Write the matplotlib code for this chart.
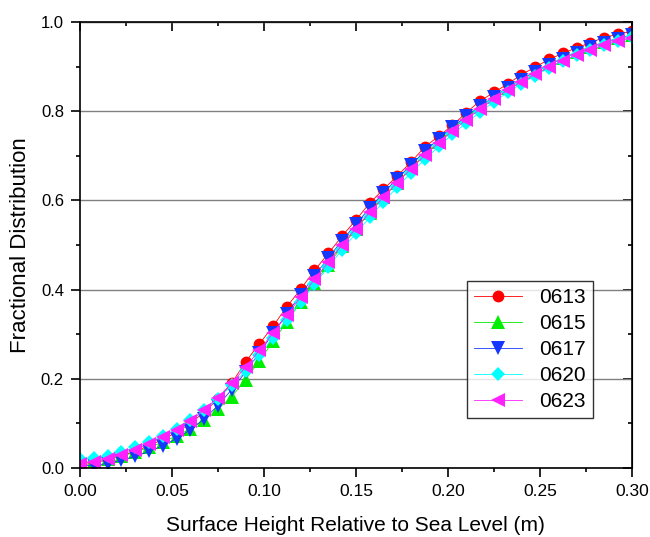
import matplotlib
matplotlib.use("Agg")
import matplotlib.pyplot as plt
from matplotlib.ticker import MultipleLocator

plt.rcParams['font.family'] = ['Liberation Sans', 'DejaVu Sans']

# surface height bins (m)
height = [0.0, 0.0075, 0.015, 0.0225, 0.03, 0.0375, 0.045, 0.0525, 0.06, 0.0675,
          0.075, 0.0825, 0.09, 0.0975, 0.105, 0.1125, 0.12, 0.1275, 0.135, 0.1425,
          0.15, 0.1575, 0.165, 0.1725, 0.18, 0.1875, 0.195, 0.2025, 0.21, 0.2175,
          0.225, 0.2325, 0.24, 0.2475, 0.255, 0.2625, 0.27, 0.2775, 0.285, 0.2925, 0.30]

d0613 = [0.005, 0.012, 0.018, 0.027, 0.037, 0.050, 0.064, 0.080, 0.100, 0.125,
         0.155, 0.190, 0.238, 0.278, 0.318, 0.362, 0.401, 0.443, 0.481, 0.520,
         0.556, 0.594, 0.625, 0.655, 0.686, 0.720, 0.744, 0.768, 0.797, 0.823,
         0.842, 0.861, 0.882, 0.899, 0.916, 0.930, 0.942, 0.954, 0.965, 0.973, 0.979]

d0615 = [0.012, 0.015, 0.020, 0.027, 0.035, 0.046, 0.058, 0.072, 0.088, 0.108,
         0.132, 0.160, 0.198, 0.240, 0.284, 0.328, 0.372, 0.415, 0.456, 0.497,
         0.535, 0.572, 0.607, 0.640, 0.672, 0.703, 0.732, 0.760, 0.786, 0.810,
         0.832, 0.853, 0.872, 0.889, 0.905, 0.920, 0.933, 0.945, 0.955, 0.964, 0.971]

d0617 = [0.005, 0.006, 0.010, 0.017, 0.026, 0.037, 0.050, 0.066, 0.086, 0.110,
         0.140, 0.176, 0.215, 0.258, 0.302, 0.346, 0.389, 0.431, 0.471, 0.510,
         0.547, 0.583, 0.617, 0.649, 0.680, 0.710, 0.738, 0.764, 0.789, 0.811,
         0.832, 0.852, 0.871, 0.888, 0.904, 0.918, 0.931, 0.943, 0.954, 0.963, 0.970]

d0620 = [0.020, 0.022, 0.028, 0.036, 0.046, 0.058, 0.072, 0.088, 0.107, 0.129,
         0.155, 0.185, 0.218, 0.254, 0.292, 0.332, 0.372, 0.412, 0.451, 0.489,
         0.526, 0.562, 0.597, 0.630, 0.662, 0.692, 0.721, 0.748, 0.774, 0.798,
         0.821, 0.842, 0.862, 0.880, 0.897, 0.912, 0.926, 0.938, 0.949, 0.958, 0.966]

d0623 = [0.010, 0.014, 0.021, 0.030, 0.041, 0.054, 0.069, 0.086, 0.106, 0.130,
         0.158, 0.190, 0.226, 0.264, 0.303, 0.343, 0.383, 0.423, 0.462, 0.500,
         0.537, 0.573, 0.607, 0.640, 0.671, 0.701, 0.729, 0.756, 0.781, 0.805,
         0.827, 0.847, 0.866, 0.883, 0.899, 0.913, 0.926, 0.938, 0.948, 0.957, 0.964]

labels = ['0613', '0615', '0617', '0620', '0623']

fig = plt.figure(figsize=(6.5, 5.37), dpi=100)
ax = fig.add_axes([0.123, 0.1285, 0.849, 0.8305])

styles = [
    (d0613, 'o', '#ff0000', 8.5),
    (d0615, '^', '#00ee00', 9.5),
    (d0617, 'v', '#1438ff', 9.5),
    (d0620, 'D', '#00ffff', 7),
    (d0623, '<', '#ff22ff', 9.5),
]
for (vals, mk, col, ms), lab in zip(styles, labels):
    ax.plot(height, vals, marker=mk, color=col, markersize=ms, linewidth=0.6,
            markeredgewidth=0, label=lab)

ax.set_xlim(0, 0.30)
ax.set_ylim(0, 1.0)
ax.xaxis.set_major_locator(MultipleLocator(0.05))
ax.xaxis.set_minor_locator(MultipleLocator(0.025))
ax.yaxis.set_major_locator(MultipleLocator(0.2))
ax.yaxis.set_minor_locator(MultipleLocator(0.1))
ax.xaxis.set_major_formatter(lambda v, p: f'{v:.2f}')
ax.yaxis.set_major_formatter(lambda v, p: f'{v:.1f}')
ax.tick_params(which='major', direction='out', length=6.5, width=1.2)
ax.tick_params(axis='x', which='major', labelsize=12.5, pad=5)
ax.tick_params(axis='y', which='major', labelsize=12, pad=5)
ax.tick_params(which='minor', direction='out', length=3, width=1.2)
ax.grid(axis='y', which='major', color='#808080', linewidth=1)
ax.set_axisbelow(True)
for s in ax.spines.values():
    s.set_linewidth(1.2)

# inward ticks mirrored on top and right
top = ax.secondary_xaxis('top')
top.set_xticks([0.0, 0.05, 0.10, 0.15, 0.20, 0.25, 0.30])
top.xaxis.set_minor_locator(MultipleLocator(0.025))
top.tick_params(which='major', direction='in', length=6.5, width=1.2, labeltop=False)
top.tick_params(which='minor', direction='in', length=3, width=1.2)
right = ax.secondary_yaxis('right')
right.set_yticks([0.0, 0.2, 0.4, 0.6, 0.8, 1.0])
right.yaxis.set_minor_locator(MultipleLocator(0.1))
right.tick_params(which='major', direction='in', length=6.5, width=1.2, labelright=False)
right.tick_params(which='minor', direction='in', length=3, width=1.2)

ax.set_xlabel('Surface Height Relative to Sea Level (m)', fontsize=15, labelpad=12)
ax.set_ylabel('Fractional Distribution', fontsize=16, labelpad=7)

leg = ax.legend(loc='upper right', bbox_to_anchor=(0.929, 0.419), fontsize=15,
                frameon=True, fancybox=False, edgecolor='black', handlelength=2.3,
                labelspacing=0.33, borderpad=0.35, borderaxespad=0)
leg.get_frame().set_linewidth(1)

fig.savefig('out.png', dpi=100)
